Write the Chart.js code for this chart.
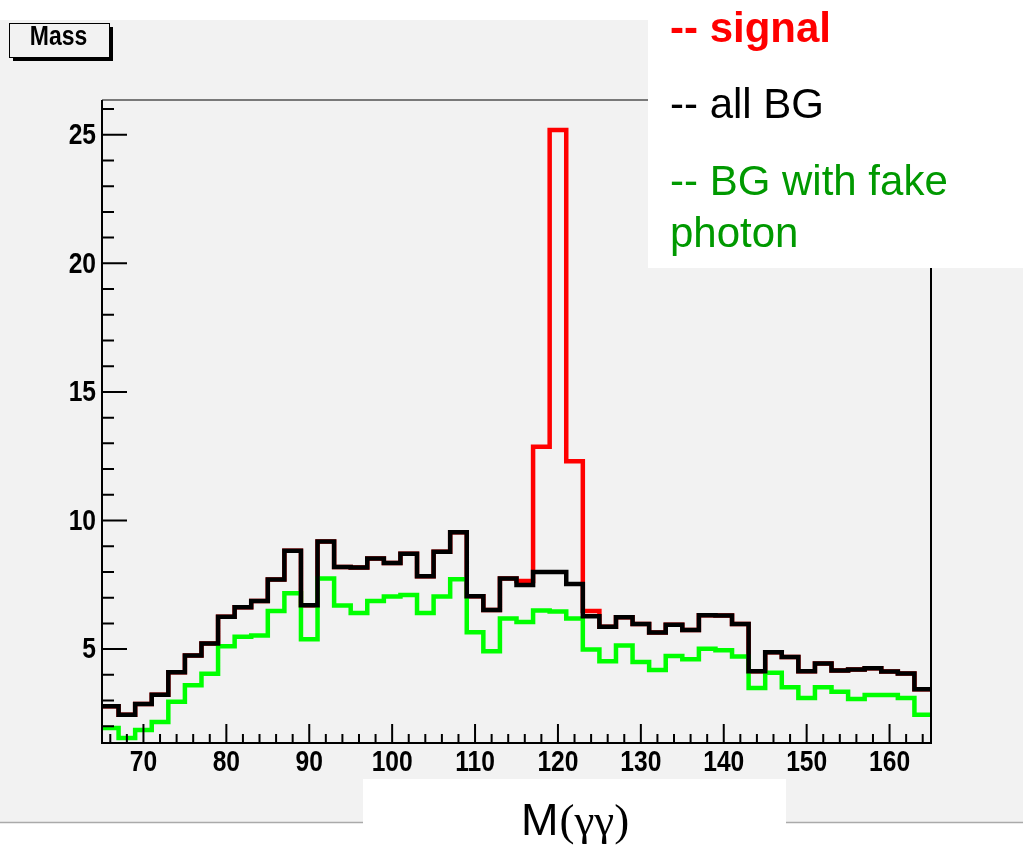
<!DOCTYPE html>
<html>
<head>
<meta charset="utf-8">
<title>Mass</title>
<script src="https://cdn.jsdelivr.net/npm/chart.js@4.4.1/dist/chart.umd.min.js"></script>
<style>
  html, body { margin: 0; padding: 0; background: #ffffff; }
  canvas { display: block; }
</style>
</head>
<body>
<canvas id="massChart" width="1023" height="849"></canvas>
<script>
  // bin edges of M(yy), 2 GeV bins from 65 to 165
  const binEdges = [65, 67, 69, 71, 73, 75, 77, 79, 81, 83, 85, 87, 89, 91, 93, 95, 97, 99, 101, 103,
    105, 107, 109, 111, 113, 115, 117, 119, 121, 123, 125, 127, 129, 131, 133, 135, 137, 139, 141, 143,
    145, 147, 149, 151, 153, 155, 157, 159, 161, 163, 165];

  // signal + all BG (red)
  const signalBG = [2.78, 2.45, 2.87, 3.23, 4.10, 4.75, 5.22, 6.26, 6.63, 6.87, 7.71, 8.82, 6.71, 9.18, 8.19,
    8.17, 8.52, 8.35, 8.71, 7.83, 8.79, 9.54, 7.06, 6.52, 7.75, 7.65, 12.87, 25.18, 12.30, 6.48,
    5.87, 6.24, 5.98, 5.65, 5.95, 5.74, 6.32, 6.31, 5.98, 4.14, 4.88, 4.69, 4.14, 4.44, 4.17,
    4.21, 4.26, 4.13, 4.05, 3.44];

  // all BG (black)
  const allBG = [2.78, 2.45, 2.87, 3.23, 4.10, 4.75, 5.22, 6.26, 6.63, 6.87, 7.71, 8.82, 6.71, 9.18, 8.19,
    8.17, 8.52, 8.35, 8.71, 7.83, 8.79, 9.54, 7.06, 6.52, 7.75, 7.49, 8.00, 8.00, 7.53, 6.28,
    5.87, 6.24, 5.98, 5.65, 5.95, 5.74, 6.32, 6.31, 5.98, 4.14, 4.88, 4.69, 4.14, 4.44, 4.17,
    4.21, 4.26, 4.13, 4.05, 3.44];

  // BG with fake photon (green)
  const fakeBG = [1.93, 1.54, 1.86, 2.17, 2.95, 3.60, 4.04, 5.11, 5.48, 5.53, 6.48, 7.17, 5.38, 7.75, 6.70,
    6.40, 6.87, 7.05, 7.10, 6.40, 7.05, 7.72, 5.66, 4.92, 6.19, 6.05, 6.50, 6.46, 6.19, 4.99,
    4.53, 5.14, 4.50, 4.19, 4.73, 4.61, 5.01, 4.96, 4.71, 3.49, 4.08, 3.52, 3.10, 3.52, 3.34,
    3.06, 3.22, 3.22, 3.10, 2.45];

  const xTicks = [70, 80, 90, 100, 110, 120, 130, 140, 150, 160];
  const yTicks = [5, 10, 15, 20, 25];

  const fonteTexto = '"Liberation Sans", Arial, sans-serif';

  // histogram -> points at the bin edges, last bin repeated at the upper edge
  function histo(valores) {
    return binEdges.map((e, i) => ({ x: e, y: valores[Math.min(i, valores.length - 1)] }));
  }

  // texto condensado (helvetica narrow) : escala horizontal
  function textoEstreito(c, texto, x, y, align) {
    c.save();
    c.translate(x, y);
    c.scale(0.82, 1);
    c.textAlign = align;
    c.fillText(texto, 0, 0);
    c.restore();
  }

  // fundo: pad cinza com linha de borda embaixo
  const fundoPlugin = {
    id: 'fundo',
    beforeDraw(chart) {
      const c = chart.ctx;
      c.save();
      c.fillStyle = '#ffffff';
      c.fillRect(0, 0, chart.width, chart.height);
      c.fillStyle = '#f2f2f2';
      c.fillRect(0, 20, chart.width, 802);
      c.strokeStyle = '#aaaaaa';
      c.lineWidth = 1.5;
      c.beginPath();
      c.moveTo(0, 822.5);
      c.lineTo(chart.width, 822.5);
      c.stroke();
      c.restore();
    }
  };

  // moldura, ticks maiores/menores, rotulos e textos por cima
  const molduraPlugin = {
    id: 'moldura',
    afterDraw(chart) {
      const c = chart.ctx;
      const a = chart.chartArea;
      const xs = chart.scales.x;
      const ys = chart.scales.y;
      c.save();
      c.strokeStyle = '#000000';

      // eixo y: tick a cada 1, maior a cada 5
      c.lineWidth = 2;
      c.beginPath();
      for (let v = 2; v <= 26; v++) {
        const py = ys.getPixelForValue(v);
        const len = v % 5 === 0 ? 25 : 12;
        c.moveTo(a.left, py);
        c.lineTo(a.left + len, py);
      }
      // eixo x: tick a cada 2, maior a cada 10
      for (let v = 66; v <= 164; v += 2) {
        const px = xs.getPixelForValue(v);
        const len = v % 10 === 0 ? 19 : 9;
        c.moveTo(px, a.bottom);
        c.lineTo(px, a.bottom - len);
      }
      c.stroke();

      c.lineWidth = 2;
      c.beginPath();
      c.moveTo(a.left, a.top);
      c.lineTo(a.left, a.bottom);
      c.lineTo(a.right, a.bottom);
      c.lineTo(a.right, a.top);
      c.stroke();
      c.lineWidth = 1.2;
      c.beginPath();
      c.moveTo(a.left, a.top);
      c.lineTo(a.right, a.top);
      c.stroke();

      // rotulos dos eixos
      c.fillStyle = '#000000';
      c.font = 'bold 30px ' + fonteTexto;
      c.textBaseline = 'middle';
      ys.ticks.forEach(t => {
        textoEstreito(c, String(t.value), a.left - 6, ys.getPixelForValue(t.value) + 1, 'right');
      });
      xs.ticks.forEach(t => {
        textoEstreito(c, String(t.value), xs.getPixelForValue(t.value), 763, 'center');
      });

      // caixa "Mass"
      c.fillStyle = '#000000';
      c.fillRect(13, 57, 100, 4);
      c.fillRect(109, 27, 4, 34);
      c.fillStyle = '#f2f2f2';
      c.fillRect(9.5, 23.5, 100, 34);
      c.lineWidth = 1;
      c.strokeRect(9.5, 23.5, 100, 34);
      c.fillStyle = '#000000';
      c.font = 'bold 28px ' + fonteTexto;
      textoEstreito(c, 'Mass', 58.5, 37, 'center');

      // legenda
      c.textBaseline = 'alphabetic';
      c.fillStyle = '#ffffff';
      c.fillRect(648, 0, chart.width - 648, 268);
      c.textAlign = 'left';
      c.font = 'bold 42px ' + fonteTexto;
      c.fillStyle = '#ff0000';
      c.fillText('-- signal', 670, 42);
      c.font = '42px ' + fonteTexto;
      c.fillStyle = '#000000';
      c.fillText('-- all BG', 670, 118);
      c.fillStyle = '#009900';
      c.fillText('-- BG with fake', 670, 195);
      c.fillText('photon', 670, 247);

      // titulo do eixo x
      c.fillStyle = '#ffffff';
      c.fillRect(363, 779, 423, chart.height - 779);
      c.fillStyle = '#000000';
      c.font = '45px ' + fonteTexto;
      c.fillText('M', 521, 835);
      const wM = c.measureText('M').width;
      c.font = '45px "Liberation Serif", "Times New Roman", serif';
      c.fillText('(\u03B3\u03B3)', 521 + wM + 1, 835);
      c.restore();
    }
  };

  document.addEventListener('DOMContentLoaded', () => {
    const ctx = document.getElementById('massChart').getContext('2d');

    const linha = {
      pointRadius: 0,
      pointHoverRadius: 0,
      borderWidth: 4.5,
      stepped: true,
      fill: false,
      tension: 0,
      borderJoinStyle: 'miter',
      borderCapStyle: 'butt'
    };

    new Chart(ctx, {
      type: 'line',
      data: {
        datasets: [
          Object.assign({ label: 'all BG', data: histo(allBG), borderColor: '#000000', order: 0 }, linha),
          Object.assign({ label: 'BG with fake photon', data: histo(fakeBG), borderColor: '#00ff00', order: 1 }, linha),
          Object.assign({ label: 'signal', data: histo(signalBG), borderColor: '#ff0000', order: 2 }, linha)
        ]
      },
      options: {
        responsive: false,
        animation: false,
        events: [],
        layout: {
          padding: { top: 100, right: 92, left: 0, bottom: 0 }
        },
        scales: {
          x: {
            type: 'linear',
            min: 65,
            max: 165,
            afterBuildTicks: s => { s.ticks = xTicks.map(v => ({ value: v })); },
            afterFit: s => { s.height = 106; },
            grid: { display: false, drawTicks: false },
            border: { display: false },
            ticks: { display: false }
          },
          y: {
            min: 1.35,
            max: 26.35,
            afterBuildTicks: s => { s.ticks = yTicks.map(v => ({ value: v })); },
            afterFit: s => { s.width = 102; },
            grid: { display: false, drawTicks: false },
            border: { display: false },
            ticks: { display: false }
          }
        },
        plugins: {
          legend: { display: false },
          tooltip: { enabled: false },
          title: { display: false }
        }
      },
      plugins: [fundoPlugin, molduraPlugin]
    });
  });
</script>
</body>
</html>
